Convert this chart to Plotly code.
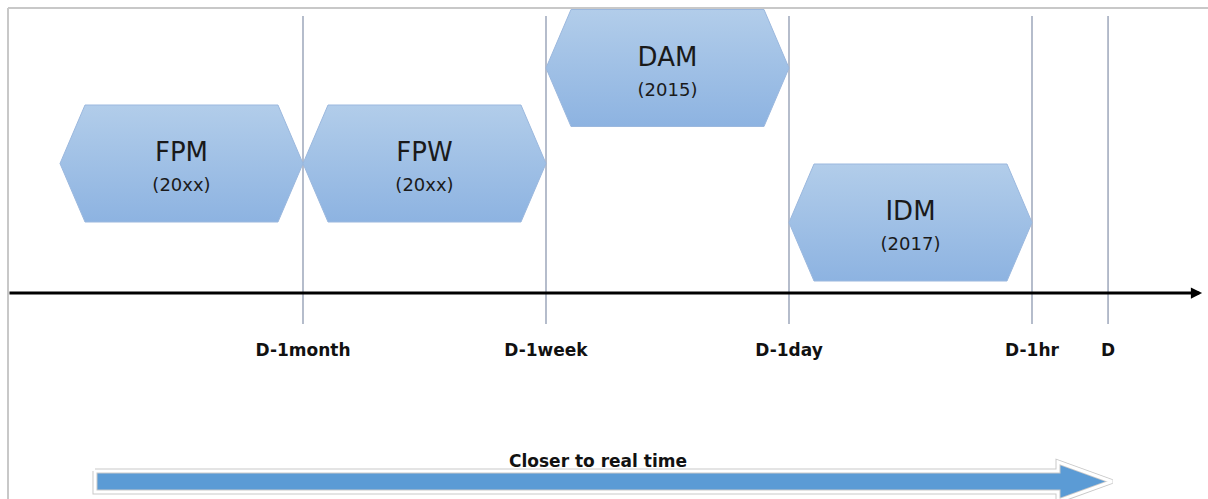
import plotly.graph_objects as go

# timeline ticks (x in "steps" between horizons)
tick_labels = ["D-1month", "D-1week", "D-1day", "D-1hr", "D"]
tick_pos = [1.0, 2.0, 3.0, 4.0, 4.313]

# markets: name, year, start / end on the timeline, vertical centre (px above time axis)
markets = ["FPM", "FPW", "DAM", "IDM"]
years = ["(20xx)", "(20xx)", "(2015)", "(2017)"]
mkt_start = [0.0, 1.0, 2.0, 3.0]
mkt_end = [1.0, 2.0, 3.0, 4.0]
mkt_center = [129.5, 129.5, 225.0, 70.5]

arrow_text = "Closer to real time"

HEX_H = 58.5      # half height
HEX_IN = 0.103    # slanted inset in timeline units

fig = go.Figure()

# vertical horizon lines
for xp in tick_pos:
    fig.add_trace(go.Scatter(x=[xp, xp], y=[277, -31], mode="lines",
                             line=dict(color="#a3acbf", width=1.6),
                             hoverinfo="skip", showlegend=False))

# hexagons
for name, yr, s, e, c in zip(markets, years, mkt_start, mkt_end, mkt_center):
    xs = [s, s + HEX_IN, e - HEX_IN, e, e - HEX_IN, s + HEX_IN, s]
    ys = [c, c + HEX_H, c + HEX_H, c, c - HEX_H, c - HEX_H, c]
    fig.add_trace(go.Scatter(
        x=xs, y=ys, mode="lines", fill="toself",
        fillgradient=dict(type="vertical",
                          colorscale=[[0, "#8db3e1"], [1, "#b2cdea"]]),
        line=dict(color="#9bb8de", width=1),
        hoverinfo="skip", showlegend=False))
    mid = (s + e) / 2
    fig.add_trace(go.Scatter(x=[mid], y=[c + 9], mode="text", text=[name],
                             textfont=dict(family="DejaVu Sans", size=26, color="#1a1a1a"),
                             hoverinfo="skip", showlegend=False))
    fig.add_trace(go.Scatter(x=[mid], y=[c - 23], mode="text", text=[yr],
                             textfont=dict(family="DejaVu Sans", size=18, color="#1a1a1a"),
                             hoverinfo="skip", showlegend=False))

# tick labels under the time axis
fig.add_trace(go.Scatter(x=tick_pos, y=[-59] * len(tick_pos), mode="text",
                         text=tick_labels,
                         textfont=dict(family="DejaVu Sans", size=17, color="#111111",
                                       weight="bold"),
                         hoverinfo="skip", showlegend=False))

# big "closer to real time" arrow
bx = [0.144, 4.107, 4.107, 4.329, 4.107, 4.107, 0.144, 0.144]
by = [-178, -178, -169, -188.5, -208, -199, -199, -178]
fig.add_trace(go.Scatter(x=bx, y=by, mode="lines", fill="toself",
                         fillcolor="#5b9bd5", line=dict(color="#c9c9c9", width=5),
                         hoverinfo="skip", showlegend=False))
fig.add_trace(go.Scatter(x=bx, y=by, mode="lines",
                         line=dict(color="#ffffff", width=3),
                         hoverinfo="skip", showlegend=False))
fig.add_trace(go.Scatter(x=[2.214], y=[-170], mode="text", text=[arrow_text],
                         textfont=dict(family="DejaVu Sans", size=17, color="#111111",
                                       weight="bold"),
                         hoverinfo="skip", showlegend=False))

# time axis arrow
fig.add_annotation(x=4.70, y=0, ax=-0.214, ay=0, xref="x", yref="y",
                   axref="x", ayref="y", text="", showarrow=True,
                   arrowhead=2, arrowsize=0.75, arrowwidth=3, arrowcolor="#000000")

# frame
fig.add_shape(type="line", xref="paper", yref="paper",
              x0=8 / 1208, x1=1, y0=1 - 8 / 499, y1=1 - 8 / 499,
              line=dict(color="#c8c8c8", width=2))
fig.add_shape(type="line", xref="paper", yref="paper",
              x0=8 / 1208, x1=8 / 1208, y0=0, y1=1 - 8 / 499,
              line=dict(color="#c8c8c8", width=2))

fig.update_xaxes(range=[-0.2469, 4.7243], visible=False, fixedrange=True)
fig.update_yaxes(range=[-206, 293], visible=False, fixedrange=True)
fig.update_layout(width=1208, height=499, margin=dict(l=0, r=0, t=0, b=0),
                  paper_bgcolor="white", plot_bgcolor="white", showlegend=False)

# drop the default page margin so the figure sits at the window corner
fig.write_html("out.html", config={"displayModeBar": False},
               post_script="document.body.style.margin='0';")
